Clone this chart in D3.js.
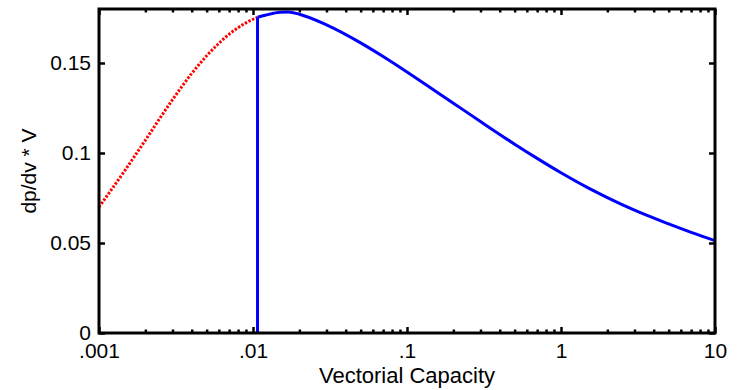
<!DOCTYPE html>
<html>
<head>
<meta charset="utf-8">
<script src="https://cdn.jsdelivr.net/npm/d3@7"></script>
<style>
  html, body { margin: 0; padding: 0; background: #fff; }
  svg { display: block; font-family: "Liberation Sans", Arial, sans-serif; }
</style>
</head>
<body>
<svg id="chart" width="737" height="390"></svg>
<script>
// Sensitivity curve below the threshold capacity (dotted)
const lowCapacity = [0.001, 0.0015, 0.002, 0.003, 0.004, 0.005, 0.006, 0.007, 0.008, 0.009, 0.0107];
const lowValue    = [0.0700, 0.0913, 0.1071, 0.1296, 0.1442, 0.1540, 0.1609, 0.1660, 0.1696, 0.1723, 0.1754];

// Sensitivity curve above the threshold capacity (solid)
const highCapacity = [0.0107, 0.012, 0.015, 0.017, 0.02, 0.03, 0.05, 0.07, 0.1, 0.15, 0.2, 0.3, 0.5, 0.7, 1, 1.5, 2, 3, 5, 7, 10];
const highValue    = [0.1754, 0.1765, 0.1782, 0.1783, 0.1771, 0.1712, 0.1612, 0.1536, 0.1450, 0.1349, 0.1277, 0.1175, 0.1049, 0.0970, 0.0890, 0.0806, 0.0752, 0.0682, 0.0606, 0.0559, 0.0513];

// Threshold capacity marker
const thresholdCapacity = [0.0107];
const thresholdValue    = [0.1754];

const xTickValues = [0.001, 0.01, 0.1, 1, 10];
const xTickLabels = [".001", ".01", ".1", "1", "10"];
const yTickValues = [0, 0.05, 0.1, 0.15];
const yTickLabels = ["0", "0.05", "0.1", "0.15"];

const svg = d3.select("#chart");
const plotLeft = 99, plotRight = 715, plotTop = 9, plotBottom = 333;

const x = d3.scaleLog().domain([0.001, 10]).range([plotLeft, plotRight]);
const y = d3.scaleLinear().domain([0, 0.18]).range([plotBottom, plotTop]);

const minorTicks = [];
[0.001, 0.01, 0.1, 1].forEach(d => { for (let k = 2; k <= 9; k++) minorTicks.push(d * k); });

const tickFont = 21;

function styleAxis(g) {
  g.select(".domain").remove();
  g.selectAll(".tick line").attr("stroke", "#000").attr("stroke-width", 2.5);
  g.selectAll("text").attr("fill", "#000").style("font-size", tickFont + "px");
}

// bottom axis: major ticks with labels, minor ticks without
svg.append("g").attr("transform", `translate(0,${plotBottom})`)
  .call(d3.axisBottom(x).tickValues(xTickValues).tickSize(-6).tickPadding(10)
    .tickFormat((d, i) => xTickLabels[i]))
  .call(styleAxis);
svg.append("g").attr("transform", `translate(0,${plotBottom})`)
  .call(d3.axisBottom(x).tickValues(minorTicks).tickSize(-3.5).tickFormat(""))
  .call(styleAxis);

// top axis mirrors bottom ticks
svg.append("g").attr("transform", `translate(0,${plotTop})`)
  .call(d3.axisTop(x).tickValues(xTickValues).tickSize(-6).tickFormat(""))
  .call(styleAxis);
svg.append("g").attr("transform", `translate(0,${plotTop})`)
  .call(d3.axisTop(x).tickValues(minorTicks).tickSize(-3.5).tickFormat(""))
  .call(styleAxis);

// left and right axes
svg.append("g").attr("transform", `translate(${plotLeft},0)`)
  .call(d3.axisLeft(y).tickValues(yTickValues).tickSize(-6).tickPadding(8)
    .tickFormat((d, i) => yTickLabels[i]))
  .call(styleAxis);
svg.append("g").attr("transform", `translate(${plotRight},0)`)
  .call(d3.axisRight(y).tickValues(yTickValues).tickSize(-6).tickFormat(""))
  .call(styleAxis);

// curves
const line = d3.line().x(d => x(d[0])).y(d => y(d[1])).curve(d3.curveMonotoneX);

svg.append("path")
  .datum(d3.zip(lowCapacity, lowValue))
  .attr("d", line)
  .attr("fill", "none")
  .attr("stroke", "#ff0000")
  .attr("stroke-width", 3)
  .attr("stroke-dasharray", "2.4,1.6");

svg.append("path")
  .datum(d3.zip(highCapacity, highValue))
  .attr("d", line)
  .attr("fill", "none")
  .attr("stroke", "#0000ff")
  .attr("stroke-width", 3)
  .attr("stroke-linejoin", "round");

svg.append("line")
  .attr("x1", x(thresholdCapacity[0])).attr("x2", x(thresholdCapacity[0]))
  .attr("y1", y(0)).attr("y2", y(thresholdValue[0]))
  .attr("stroke", "#0000ff")
  .attr("stroke-width", 3);

// frame
svg.append("rect")
  .attr("x", plotLeft).attr("y", plotTop)
  .attr("width", plotRight - plotLeft).attr("height", plotBottom - plotTop)
  .attr("fill", "none").attr("stroke", "#000").attr("stroke-width", 3);

// axis titles
svg.append("text")
  .attr("x", (plotLeft + plotRight) / 2).attr("y", 383)
  .attr("text-anchor", "middle")
  .style("font-size", "22px")
  .text("Vectorial Capacity");

svg.append("text")
  .attr("transform", `translate(36,${(plotTop + plotBottom) / 2}) rotate(-90)`)
  .attr("text-anchor", "middle")
  .style("font-size", "21px")
  .text("dp/dv * V");
</script>
</body>
</html>
